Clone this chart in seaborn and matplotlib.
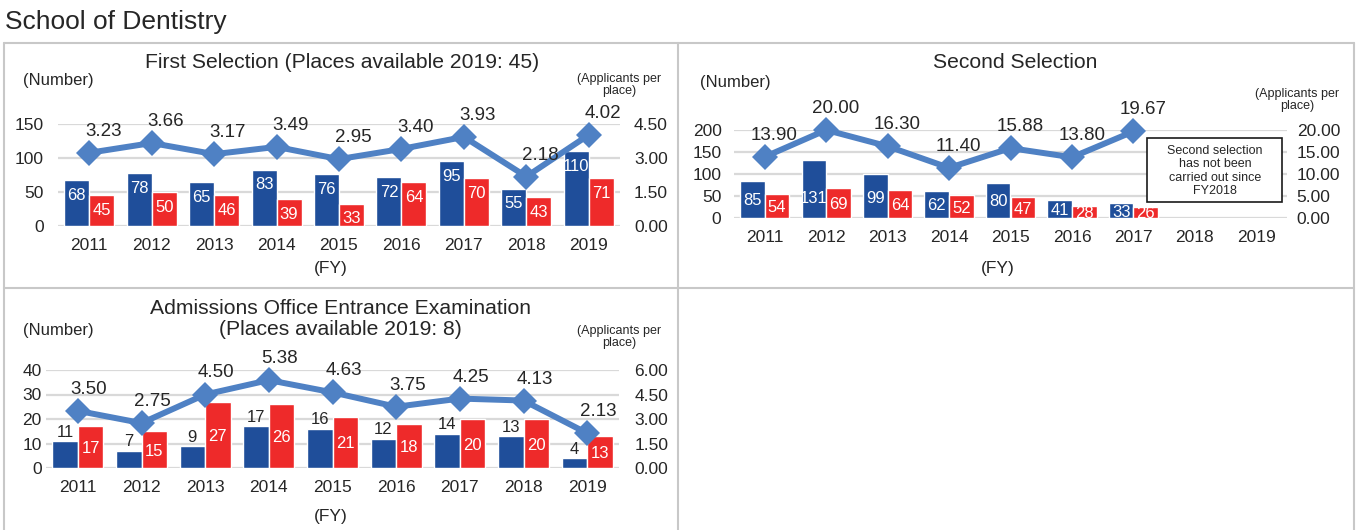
import numpy as np
import pandas as pd
import matplotlib
matplotlib.use("Agg")
import matplotlib.pyplot as plt
from matplotlib.lines import Line2D
from matplotlib.patches import Rectangle
import seaborn as sns

# ---------------- data ----------------
years = ["2011", "2012", "2013", "2014", "2015", "2016", "2017", "2018", "2019"]

first_applicants = [68, 78, 65, 83, 76, 72, 95, 55, 110]
first_successful = [45, 50, 46, 39, 33, 64, 70, 43, 71]
first_ratio = [3.23, 3.66, 3.17, 3.49, 2.95, 3.40, 3.93, 2.18, 4.02]

second_applicants = [85, 131, 99, 62, 80, 41, 33, np.nan, np.nan]
second_successful = [54, 69, 64, 52, 47, 28, 26, np.nan, np.nan]
second_ratio = [13.90, 20.00, 16.30, 11.40, 15.88, 13.80, 19.67, np.nan, np.nan]

ao_applicants = [11, 7, 9, 17, 16, 12, 14, 13, 4]
ao_successful = [17, 15, 27, 26, 21, 18, 20, 20, 13]
ao_ratio = [3.50, 2.75, 4.50, 5.38, 4.63, 3.75, 4.25, 4.13, 2.13]

first_left_ticks = [0, 50, 100, 150]
first_right_ticks = [0.0, 1.5, 3.0, 4.5]
second_left_ticks = [0, 50, 100, 150, 200]
second_right_ticks = [0.0, 5.0, 10.0, 15.0, 20.0]
ao_left_ticks = [0, 10, 20, 30, 40]
ao_right_ticks = [0.0, 1.5, 3.0, 4.5, 6.0]

# ---------------- style ----------------
sns.set_theme(style="white")
plt.rcParams["font.family"] = ["Liberation Sans", "DejaVu Sans"]

BLUE = "#1F4E9A"
RED = "#EE2A2A"
LINE = "#4F81C4"
GRID = "#D9D9D9"
TXT = "#262626"
BORDER = "#C8C8C8"

W, H = 1360, 530
fig = plt.figure(figsize=(W / 100, H / 100), dpi=100)


def fx(px):
    return px / W


def fy(py):
    return 1 - py / H


def make_panel(rect, applicants, successful, ratio, lticks, rticks,
               label_mode, line_dx=10, lpad=9, rpad=10):
    left, top, right, bottom = rect
    ax = fig.add_axes([fx(left), fy(bottom), fx(right - left), (bottom - top) / H])
    df = pd.DataFrame({
        "year": years * 2,
        "value": list(applicants) + list(successful),
        "kind": ["Applicants"] * len(years) + ["Successful"] * len(years),
    })
    sns.barplot(data=df, x="year", y="value", hue="kind", order=years,
                hue_order=["Applicants", "Successful"],
                palette={"Applicants": BLUE, "Successful": RED},
                width=0.8, saturation=1, legend=False, ax=ax, errorbar=None)
    ax.set_xlabel("")
    ax.set_ylabel("")
    ax.set_ylim(lticks[0], lticks[-1])
    ax.set_yticks(lticks)
    ax.set_yticklabels([str(t) for t in lticks])
    ax.set_xlim(-0.5, len(years) - 0.5)
    ax.yaxis.grid(True, color=GRID, lw=1.6)
    ax.set_axisbelow(True)
    for s in ax.spines.values():
        s.set_visible(False)
    ax.tick_params(axis="y", length=0, pad=lpad, labelsize=12.5, labelcolor=TXT)
    ax.tick_params(axis="x", length=0, pad=9, labelsize=12.5, labelcolor=TXT)

    # bar labels
    for ci, cont in enumerate(ax.containers):
        for patch in cont.patches:
            h = patch.get_height()
            if np.isnan(h) or h == 0:
                continue
            xc = patch.get_x() + patch.get_width() / 2
            txt = f"{int(round(h))}"
            if label_mode == "end":
                ax.annotate(txt, (xc, h), xytext=(0, -10), textcoords="offset points",
                            ha="center", va="center_baseline", color="white", fontsize=12)
            elif label_mode == "center":
                yv = float(np.clip(h / 2, 14, 48))
                ax.annotate(txt, (xc, yv), ha="center", va="center_baseline",
                            color="white", fontsize=12)
            else:  # ao: blue outside, red centered
                if ci == 0:
                    ax.annotate(txt, (xc, h), xytext=(0, 1), textcoords="offset points",
                                ha="center", va="bottom", color=TXT, fontsize=12)
                else:
                    ax.annotate(txt, (xc, h / 2), ha="center", va="center_baseline",
                                color="white", fontsize=12)

    ax2 = ax.twinx()
    pos = np.arange(len(years))
    sns.lineplot(x=pos, y=ratio, ax=ax2, color=LINE, lw=4.3, marker="D",
                 markersize=13, markeredgewidth=0, markerfacecolor=LINE)
    for l in ax2.lines:
        l.set_clip_on(False)
    ax2.set_ylim(rticks[0], rticks[-1])
    ax2.set_yticks(rticks)
    ax2.set_yticklabels([f"{t:.2f}" for t in rticks])
    ax2.set_xlim(-0.5, len(years) - 0.5)
    for s in ax2.spines.values():
        s.set_visible(False)
    ax2.tick_params(axis="y", length=0, pad=rpad, labelsize=12.5, labelcolor=TXT)
    ax2.grid(False)
    for xi, r in zip(pos, ratio):
        if np.isnan(r):
            continue
        ax2.annotate(f"{r:.2f}", (xi, r), xytext=(line_dx, 15.5), textcoords="offset points",
                     ha="center", va="center", color=TXT, fontsize=13.5,
                     annotation_clip=False)
    return ax, ax2


# panel 1: First Selection
make_panel((58, 124, 620, 226), first_applicants, first_successful, first_ratio,
           first_left_ticks, first_right_ticks, "end", line_dx=10, lpad=10, rpad=10)
# panel 2: Second Selection
make_panel((734, 130, 1287, 218), second_applicants, second_successful,
           second_ratio, second_left_ticks, second_right_ticks, "center",
           line_dx=7, lpad=9, rpad=7)
# panel 3: AO
make_panel((46, 370, 619, 468), ao_applicants, ao_successful, ao_ratio,
           ao_left_ticks, ao_right_ticks, "ao", line_dx=8, lpad=3, rpad=11)

# note box in panel 2
fig.add_artist(Rectangle((fx(1147), fy(202)), fx(1282 - 1147), (202 - 138) / H,
                         transform=fig.transFigure, fc="white", ec="#1a1a1a", lw=1.2,
                         zorder=5))
fig.text(fx(1215), fy(171), "Second selection\nhas not been\ncarried out since\nFY2018",
         ha="center", va="center", fontsize=9, color=TXT, linespacing=1.15, zorder=6)

# titles and axis captions
fig.text(fx(5), fy(22), "School of Dentistry", ha="left", va="center",
         fontsize=19, color=TXT)
fig.text(fx(342), fy(63), "First Selection (Places available 2019: 45)",
         ha="center", va="center", fontsize=15.2, color=TXT)
fig.text(fx(1015), fy(63), "Second Selection", ha="center", va="center",
         fontsize=15.2, color=TXT)
fig.text(fx(340), fy(319), "Admissions Office Entrance Examination\n(Places available 2019: 8)",
         ha="center", va="center", fontsize=15.2, color=TXT, linespacing=1.15)

for (x, y) in [(58, 81), (735, 83), (58, 331)]:
    fig.text(fx(x), fy(y), "(Number)", ha="center", va="center", fontsize=12, color=TXT)
for (x, y) in [(619, 85), (1297, 100), (619, 337)]:
    fig.text(fx(x), fy(y), "(Applicants per\nplace)", ha="center", va="center",
             fontsize=9, color=TXT, linespacing=1.1)
for (x, y) in [(331, 268), (998, 268), (331, 517)]:
    fig.text(fx(x), fy(y), "(FY)", ha="center", va="center", fontsize=12.5, color=TXT)

# panel borders
lw_b = 1.5
for xv in [4, 678, 1354]:
    fig.add_artist(Line2D([fx(xv), fx(xv)], [fy(43), fy(530)], color=BORDER, lw=lw_b))
for yv in [43, 288]:
    fig.add_artist(Line2D([fx(4), fx(1354)], [fy(yv), fy(yv)], color=BORDER, lw=lw_b))

fig.savefig("out.png", dpi=100, facecolor="white")
